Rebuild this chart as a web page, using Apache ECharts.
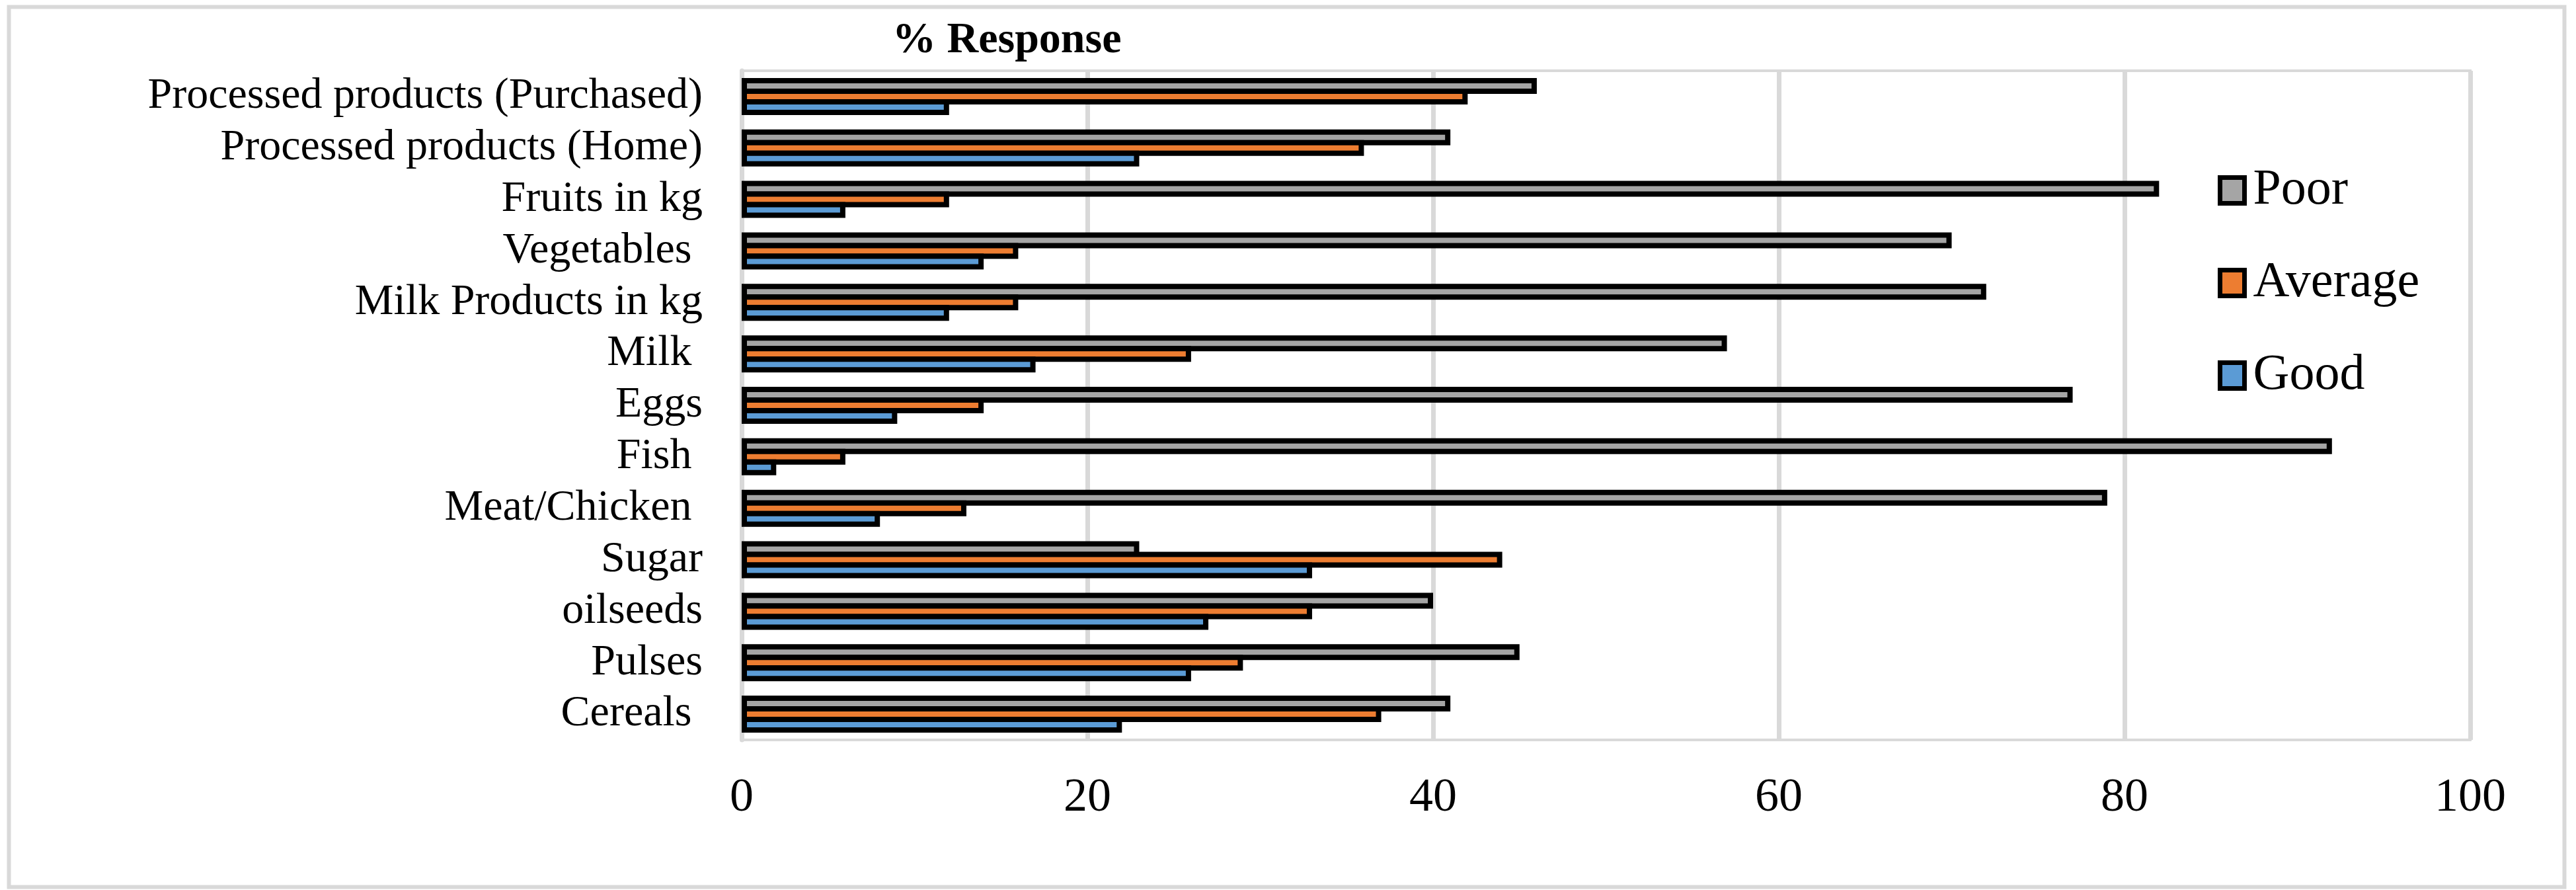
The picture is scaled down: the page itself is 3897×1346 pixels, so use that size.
<!DOCTYPE html>
<html>
<head>
<meta charset="utf-8">
<script src="https://cdn.jsdelivr.net/npm/echarts@6/dist/echarts.min.js"></script>
<style>
html,body{margin:0;padding:0;background:#fff;}
#chart{width:3897px;height:1346px;}
</style>
</head>
<body>
<div id="chart"></div>
<script>
// Categories from top to bottom
const categories = [
  'Processed products (Purchased)',
  'Processed products (Home)',
  'Fruits in kg',
  'Vegetables ',
  'Milk Products in kg',
  'Milk ',
  'Eggs',
  'Fish ',
  'Meat/Chicken ',
  'Sugar',
  'oilseeds',
  'Pulses',
  'Cereals '
];
const poor    = [46, 41, 82, 70, 72, 57, 77, 92, 79, 23, 40, 45, 41];
const average = [42, 36, 12, 16, 16, 26, 14,  6, 13, 44, 33, 29, 37];
const good    = [12, 23,  6, 14, 12, 17,  9,  2,  8, 33, 27, 26, 22];
const xTicks = [0, 20, 40, 60, 80, 100];

const FONT = 'Liberation Serif';
const chart = echarts.init(document.getElementById('chart'));

function barSeries(name, data, color) {
  return {
    name: name,
    type: 'bar',
    data: data,
    barWidth: 24,
    barGap: '-33.33%',
    itemStyle: { color: color, borderColor: '#000', borderWidth: 8 },
    emphasis: { disabled: true }
  };
}

chart.setOption({
  animation: false,
  backgroundColor: '#fff',
  title: {
    text: '% Response',
    left: 1345,
    top: 24,
    textStyle: { fontFamily: FONT, fontSize: 66, fontWeight: 'bold', color: '#000' }
  },
  graphic: [{
    type: 'rect',
    shape: { x: 13.5, y: 10.5, width: 3866, height: 1331 },
    style: { fill: 'none', stroke: '#D9D9D9', lineWidth: 6 },
    silent: true
  }],
  legend: {
    orient: 'vertical',
    left: 3350,
    top: 245,
    icon: 'rect',
    itemWidth: 37,
    itemHeight: 39,
    itemGap: 64,
    itemStyle: { borderColor: '#000', borderWidth: 7 },
    textStyle: { fontFamily: FONT, fontSize: 76, color: '#000', padding: [0, 0, 0, 8] },
    data: ['Poor', 'Average', 'Good']
  },
  grid: {
    left: 1122, right: 160, top: 107, bottom: 227,
    show: true, borderColor: '#D9D9D9', borderWidth: 4,
    containLabel: false
  },
  xAxis: {
    type: 'value',
    min: 0, max: 100, interval: 20,
    axisLine: { show: true, lineStyle: { color: '#D9D9D9', width: 4 } },
    axisTick: { show: false },
    splitLine: { show: true, lineStyle: { color: '#D9D9D9', width: 7 } },
    axisLabel: {
      fontFamily: FONT, fontSize: 72, color: '#000', margin: 52,
      formatter: function (v) { return xTicks.indexOf(v) >= 0 ? String(v) : ''; }
    }
  },
  yAxis: {
    type: 'category',
    data: categories,
    inverse: true,
    axisLine: { show: true, lineStyle: { color: '#D9D9D9', width: 7 } },
    axisTick: { show: false },
    splitLine: { show: false },
    axisLabel: { interval: 0, fontFamily: FONT, fontSize: 66, color: '#000', margin: 59 }
  },
  series: [
    barSeries('Poor', poor, '#A5A5A5'),
    barSeries('Average', average, '#ED7D31'),
    barSeries('Good', good, '#5B9BD5')
  ]
});
</script>
</body>
</html>
